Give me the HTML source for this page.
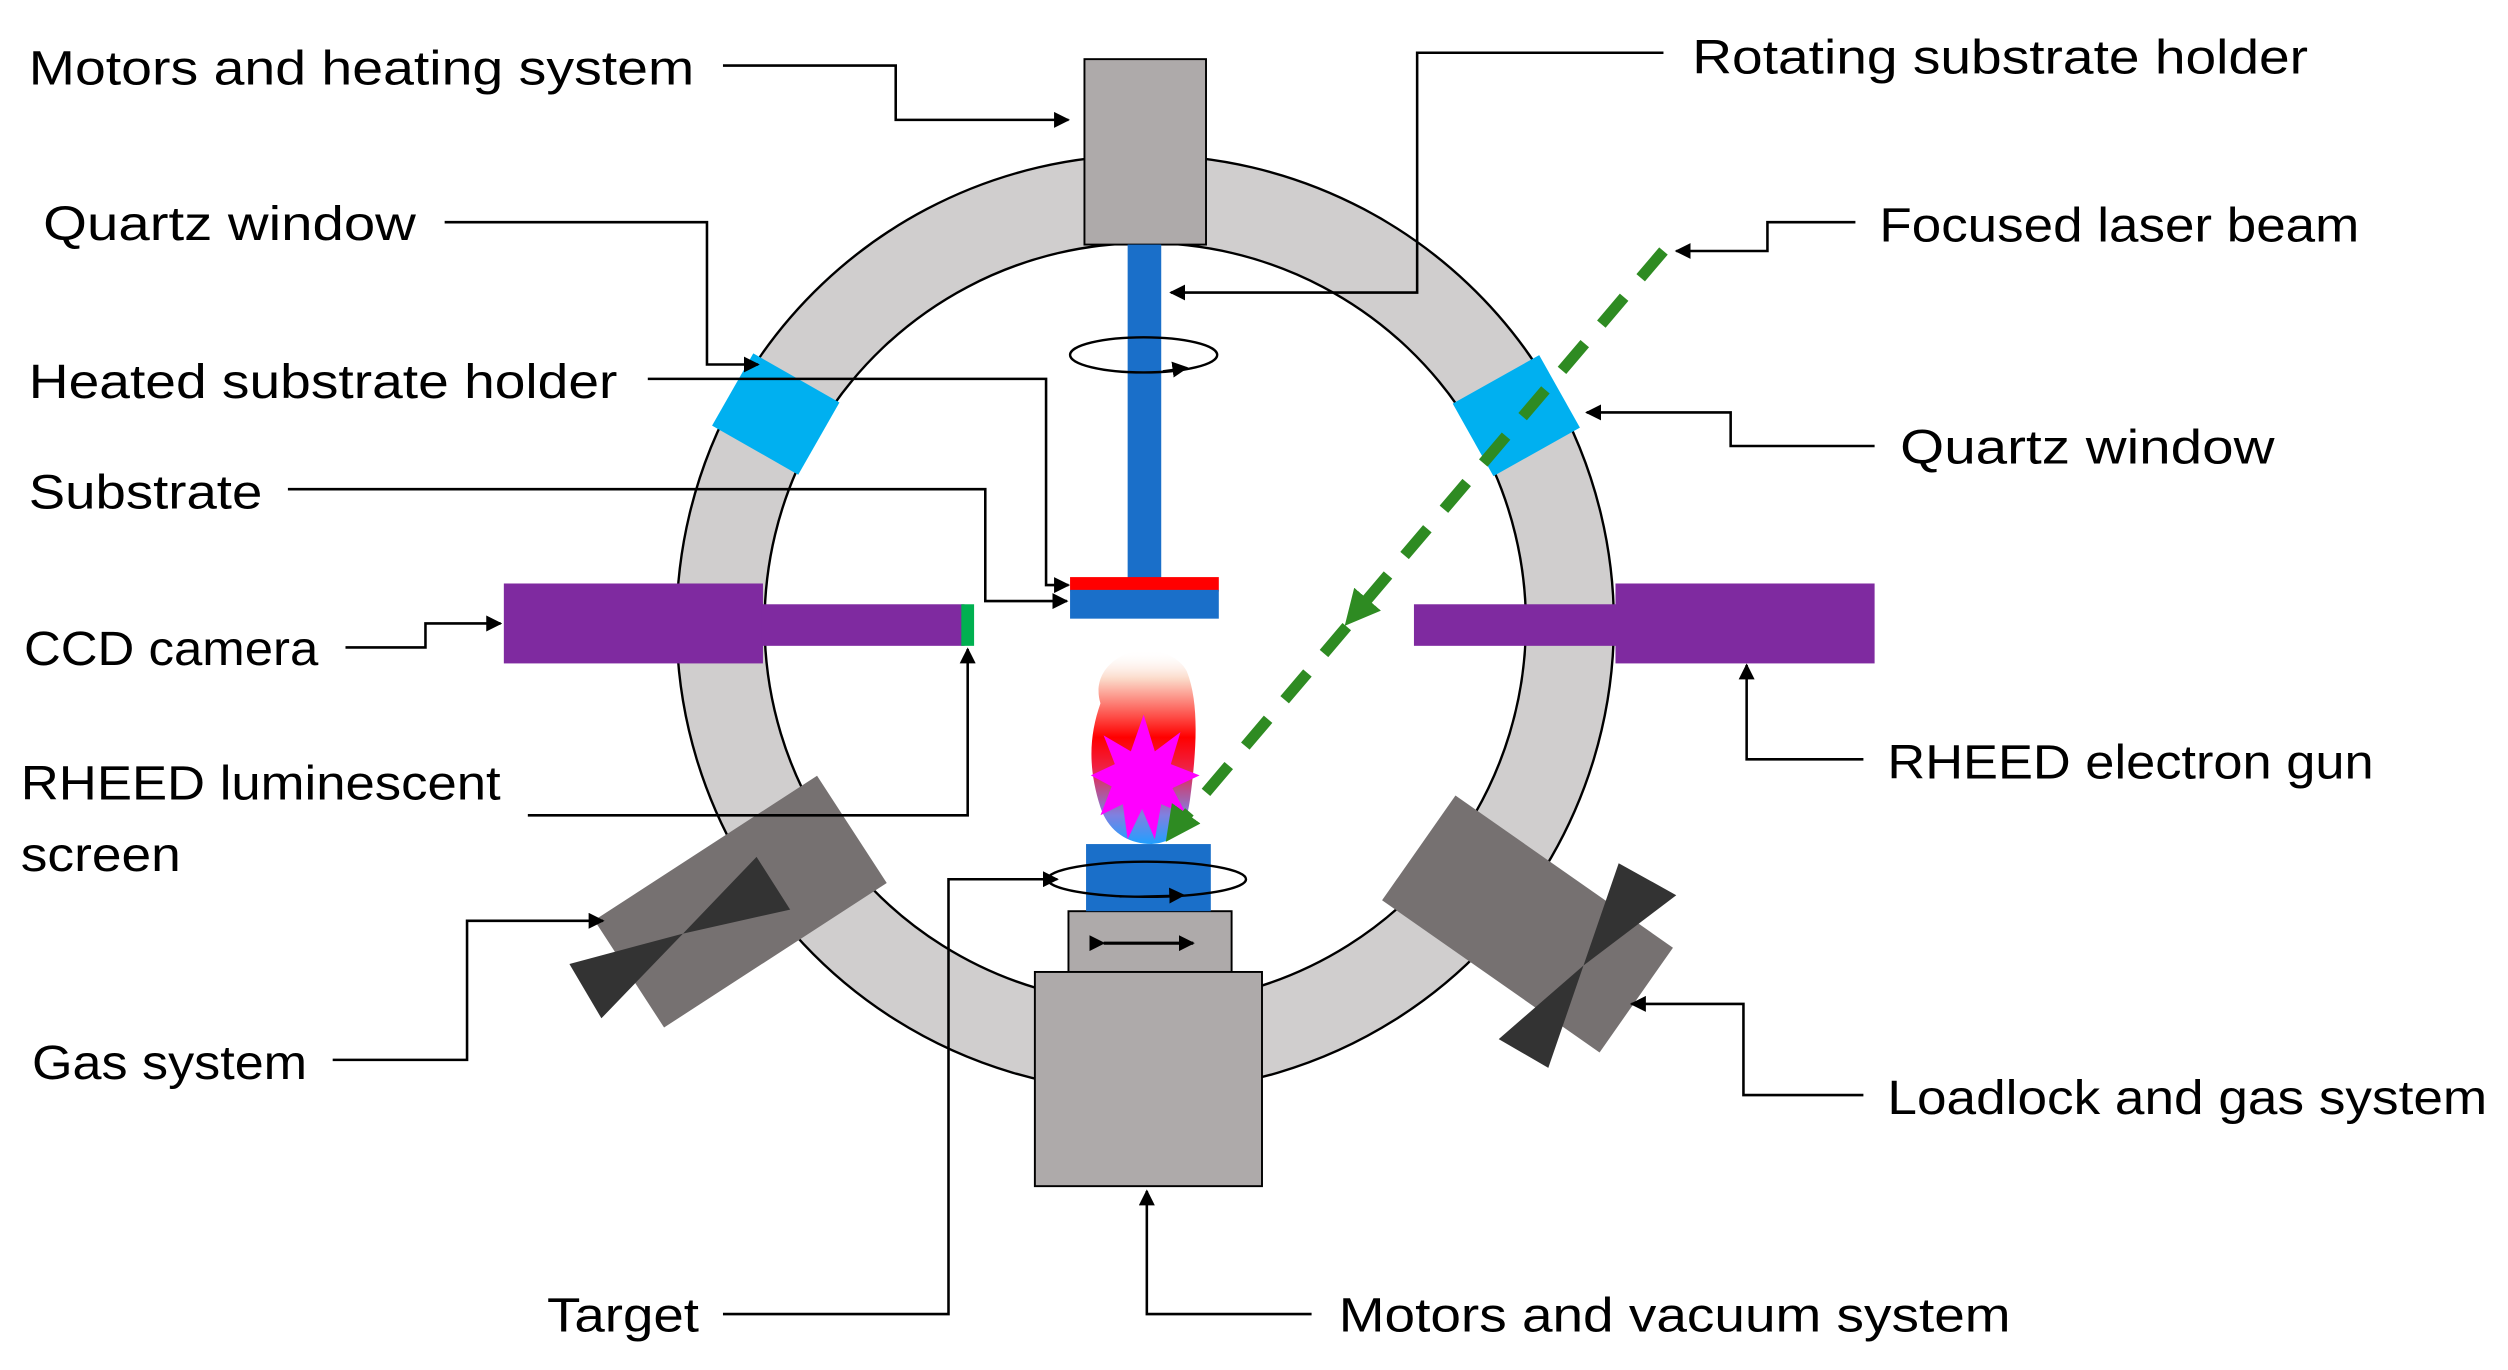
<!DOCTYPE html>
<html><head><meta charset="utf-8"><style>
html,body{margin:0;padding:0;background:#fff;}
svg{display:block;}
text{font-family:"Liberation Sans",sans-serif;font-size:30px;fill:#000;}
</style></head><body>
<svg width="2508" height="1370" viewBox="0 0 1568 857" preserveAspectRatio="none" xmlns="http://www.w3.org/2000/svg">
<defs>
<marker id="a" markerWidth="10" markerHeight="10" refX="9" refY="5" orient="auto" markerUnits="userSpaceOnUse"><path d="M0,0 L10,5 L0,10 z" fill="#000"/></marker>
<marker id="g" markerWidth="22" markerHeight="22" refX="20" refY="11" orient="auto" markerUnits="userSpaceOnUse"><path d="M0,0 L22,11 L0,22 z" fill="#2e8b22"/></marker>
<linearGradient id="pl" x1="0" y1="0" x2="0" y2="1">
<stop offset="0" stop-color="#fff" stop-opacity="0"/>
<stop offset="0.15" stop-color="#fbd9c8"/>
<stop offset="0.45" stop-color="#ff0000"/>
<stop offset="0.6" stop-color="#f02040"/>
<stop offset="0.85" stop-color="#8080e0"/>
<stop offset="1" stop-color="#20a0ff"/>
</linearGradient>
</defs>
<path fill-rule="evenodd" fill="#d0cece" stroke="#000" stroke-width="1.5" d="M716,97 a293,293 0 1,0 0.01,0 z M716,152 a238,238 0 1,1 -0.01,0 z"/>
<rect x="454" y="233" width="62" height="52" fill="#00b0f0" transform="rotate(29.7 485 259)"/>
<rect x="917" y="234" width="62" height="52" fill="#00b0f0" transform="rotate(-29.3 948 260)"/>
<rect x="380" y="524" width="166" height="80" fill="#767171" transform="rotate(-33 463 564)"/>
<polygon points="473,536 494,569 427,584" fill="#333"/>
<polygon points="356,603 376,637 427,584" fill="#333"/>
<rect x="872" y="538" width="166" height="80" fill="#767171" transform="rotate(35 955 578)"/>
<polygon points="1012,540 1048,560 990,604" fill="#333"/>
<polygon points="937,650 968,668 990,604" fill="#333"/>
<rect x="678" y="37" width="76" height="116" fill="#aeaaaa" stroke="#000" stroke-width="1.2"/>
<rect x="705" y="153" width="21" height="209" fill="#1a6fc9"/>
<ellipse cx="715" cy="222" rx="46" ry="11" fill="none" stroke="#000" stroke-width="1.5"/>
<path d="M727,232 L742,230" stroke="#000" marker-end="url(#a)"/>
<rect x="669" y="361" width="93" height="9" fill="#ff0000"/>
<rect x="669" y="369" width="93" height="18" fill="#1a6fc9"/>
<rect x="315" y="365" width="162" height="50" fill="#7f2aa0"/>
<rect x="476" y="378" width="127" height="26" fill="#7f2aa0"/>
<rect x="601" y="378" width="8" height="26" fill="#00b050"/>
<rect x="884" y="378" width="128" height="26" fill="#7f2aa0"/>
<rect x="1010" y="365" width="162" height="50" fill="#7f2aa0"/>
<path d="M688,440 C682,420 700,408 712,407 C722,405 737,410 742,420 C750,440 748,470 744,500 C742,515 737,527 720,528 C705,528 693,520 688,505 C680,480 681,460 688,440 z" fill="url(#pl)"/>
<polygon fill="#ff00ff" points="715,447 722,470 738,458 732,478 750,485 733,493 742,510 726,503 722,525 714,506 705,525 702,503 688,510 695,492 682,485 697,478 690,460 707,470"/>
<rect x="668" y="570" width="102" height="38" fill="#aeaaaa" stroke="#000" stroke-width="1.2"/>
<path d="M690,590 L746,590" stroke="#000" stroke-width="2" marker-start="url(#a)" marker-end="url(#a)"/>
<rect x="647" y="608" width="142" height="134" fill="#aeaaaa" stroke="#000" stroke-width="1.2"/>
<rect x="679" y="528" width="78" height="42" fill="#1a6fc9"/>
<ellipse cx="717" cy="550" rx="62" ry="11" fill="none" stroke="#000" stroke-width="1.5"/>
<path d="M700,561 L740,560" stroke="#000" marker-end="url(#a)"/>
<line x1="1040" y1="157" x2="848" y2="383" stroke="#2e8b22" stroke-width="7" stroke-dasharray="22,16"/>
<path d="M848,383 L842,390" stroke="#2e8b22" stroke-width="1" marker-end="url(#g)"/>
<line x1="842" y1="392" x2="735" y2="518" stroke="#2e8b22" stroke-width="7" stroke-dasharray="22,16"/>
<path d="M735,518 L730,525" stroke="#2e8b22" stroke-width="1" marker-end="url(#g)"/>
<g fill="none" stroke="#000" stroke-width="1.6">
<path d="M452,41 H560 V75 H668" marker-end="url(#a)"/>
<path d="M1040,33 H886 V183 H732" marker-end="url(#a)"/>
<path d="M278,139 H442 V228 H474" marker-end="url(#a)"/>
<path d="M1160,139 H1105 V157 H1048" marker-end="url(#a)"/>
<path d="M405,237 H654 V366 H668" marker-end="url(#a)"/>
<path d="M1172,279 H1082 V258 H992" marker-end="url(#a)"/>
<path d="M180,306 H616 V376 H667" marker-end="url(#a)"/>
<path d="M216,405 H266 V390 H313" marker-end="url(#a)"/>
<path d="M330,510 H605 V406" marker-end="url(#a)"/>
<path d="M1165,475 H1092 V416" marker-end="url(#a)"/>
<path d="M208,663 H292 V576 H377" marker-end="url(#a)"/>
<path d="M1165,685 H1090 V628 H1020" marker-end="url(#a)"/>
<path d="M452,822 H593 V550 H661" marker-end="url(#a)"/>
<path d="M820,822 H717 V745" marker-end="url(#a)"/>
</g>
<text x="18" y="53" textLength="416" lengthAdjust="spacingAndGlyphs">Motors and heating system</text>
<text x="1058" y="46" textLength="385" lengthAdjust="spacingAndGlyphs">Rotating substrate holder</text>
<text x="27" y="150" textLength="233" lengthAdjust="spacingAndGlyphs">Quartz window</text>
<text x="1175" y="151" textLength="300" lengthAdjust="spacingAndGlyphs">Focused laser beam</text>
<text x="18" y="249" textLength="368" lengthAdjust="spacingAndGlyphs">Heated substrate holder</text>
<text x="1188" y="290" textLength="234" lengthAdjust="spacingAndGlyphs">Quartz window</text>
<text x="18" y="318" textLength="146" lengthAdjust="spacingAndGlyphs">Substrate</text>
<text x="15" y="416" textLength="184" lengthAdjust="spacingAndGlyphs">CCD camera</text>
<text x="13" y="500" textLength="300" lengthAdjust="spacingAndGlyphs">RHEED luminescent</text>
<text x="13" y="545" textLength="100" lengthAdjust="spacingAndGlyphs">screen</text>
<text x="1180" y="487" textLength="304" lengthAdjust="spacingAndGlyphs">RHEED electron gun</text>
<text x="20" y="675" textLength="172" lengthAdjust="spacingAndGlyphs">Gas system</text>
<text x="1180" y="697" textLength="375" lengthAdjust="spacingAndGlyphs">Loadlock and gas system</text>
<text x="342" y="833" textLength="95" lengthAdjust="spacingAndGlyphs">Target</text>
<text x="837" y="833" textLength="420" lengthAdjust="spacingAndGlyphs">Motors and vacuum system</text>
</svg>
</body></html>
